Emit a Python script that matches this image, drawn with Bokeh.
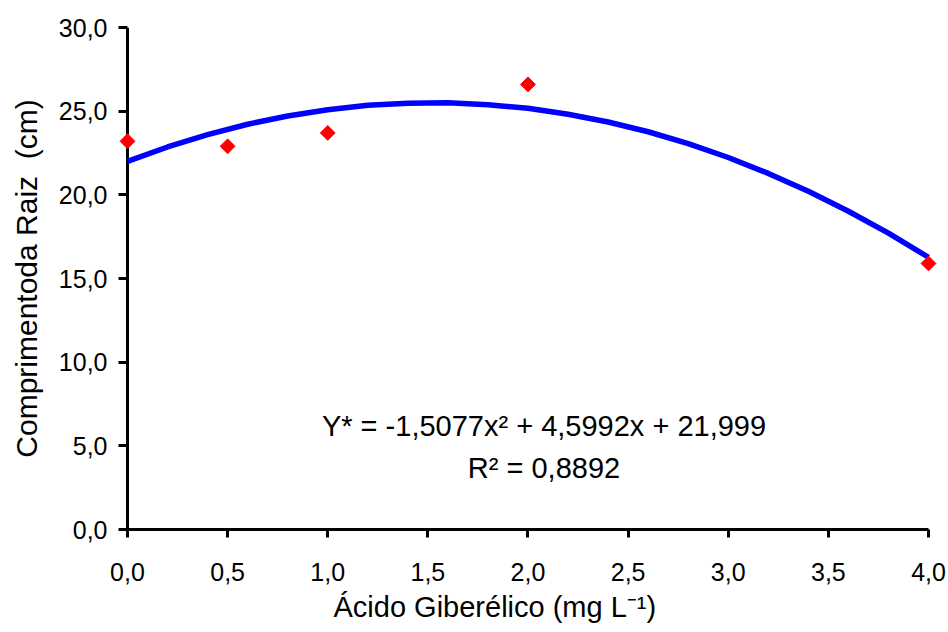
import numpy as np
from bokeh.plotting import figure
from bokeh.models import Range1d, FixedTicker, Label, Span, Title
from bokeh.embed import file_html
from bokeh.resources import INLINE

# observed points
dose = [0.0, 0.5, 1.0, 2.0, 4.0]
root_len = [23.2, 22.9, 23.7, 26.6, 15.9]

# fitted curve
curve_x = [0.0, 0.2, 0.4, 0.6, 0.8, 1.0, 1.2, 1.4, 1.6, 1.8, 2.0,
           2.2, 2.4, 2.6, 2.8, 3.0, 3.2, 3.4, 3.6, 3.8, 4.0]
curve_y = [22.0, 22.86, 23.6, 24.22, 24.71, 25.09, 25.35, 25.48, 25.5, 25.39, 25.17,
           24.82, 24.35, 23.77, 23.06, 22.23, 21.28, 20.21, 19.02, 17.71, 16.27]

x_ticks = [0.0, 0.5, 1.0, 1.5, 2.0, 2.5, 3.0, 3.5, 4.0]
x_tick_labels = ["0,0", "0,5", "1,0", "1,5", "2,0", "2,5", "3,0", "3,5", "4,0"]
y_ticks = [0.0, 5.0, 10.0, 15.0, 20.0, 25.0, 30.0]
y_tick_labels = ["0,0", "5,0", "10,0", "15,0", "20,0", "25,0", "30,0"]

eq_text = "Y* = -1,5077x\u00b2 + 4,5992x + 21,999"
r2_text = "R\u00b2 = 0,8892"
x_title = "\u00c1cido Gibere\u0301lico (mg L\u207b\u00b9)".replace("e\u0301", "\u00e9")
y_title = "Comprimentoda Raiz\u00a0 (cm)"

FONT = "Liberation Sans"

p = figure(width=948, height=632,
           x_range=Range1d(-0.0449, 4.0599), y_range=Range1d(0, 30),
           output_backend="svg", toolbar_location=None,
           min_border_left=118, min_border_right=8,
           min_border_top=27, min_border_bottom=103)

p.xgrid.visible = False
p.ygrid.visible = False
p.outline_line_color = None
p.background_fill_color = "white"
p.border_fill_color = "white"

for ax in (p.xaxis, p.yaxis):
    ax.axis_line_width = 3
    ax.axis_line_color = "black"
    ax.major_tick_line_width = 3
    ax.major_tick_line_color = "black"
    ax.minor_tick_out = 0
    ax.minor_tick_in = 0
    ax.major_label_text_font = FONT
    ax.major_label_text_font_size = "25px"
    ax.major_label_text_color = "black"

p.xaxis.ticker = FixedTicker(ticks=x_ticks)
p.xaxis.major_label_overrides = dict(zip(x_ticks, x_tick_labels))
p.xaxis.bounds = (0, 4)
p.xaxis.major_tick_out = 8
p.xaxis.major_tick_in = 0
p.xaxis.major_label_standoff = 25

# y axis sits at the frame edge; its visible line is drawn at x = 0 below
p.yaxis.ticker = FixedTicker(ticks=y_ticks)
p.yaxis.major_label_overrides = dict(zip(y_ticks, y_tick_labels))
p.yaxis.axis_line_color = None
p.yaxis.major_tick_out = 0
p.yaxis.major_tick_in = 9
p.yaxis.major_label_standoff = 11
p.yaxis.axis_label = y_title
p.yaxis.axis_label_text_font = FONT
p.yaxis.axis_label_text_font_size = "30px"
p.yaxis.axis_label_text_font_style = "normal"
p.yaxis.axis_label_text_color = "black"
p.yaxis.axis_label_standoff = 13

p.add_layout(Span(location=0, dimension="height", line_color="black",
                  line_width=3, level="underlay"))

p.line(curve_x, curve_y, line_color="#0000FF", line_width=5.5)
p.scatter(dose, root_len, marker="square", size=10.5, angle=np.pi / 4,
          fill_color="#FF0000", line_color="#FF0000")

for txt, yy in ((eq_text, 6.2), (r2_text, 3.65)):
    p.add_layout(Label(x=2.08, y=yy, text=txt, text_align="center",
                       text_baseline="middle", text_font=FONT,
                       text_font_size="29px", text_color="black"))

p.add_layout(Title(text=x_title, align="left", offset=215, standoff=11,
                   text_font=FONT, text_font_size="29px",
                   text_font_style="normal", text_color="black"), "below")

open("out.html", "w").write(file_html(p, INLINE))
